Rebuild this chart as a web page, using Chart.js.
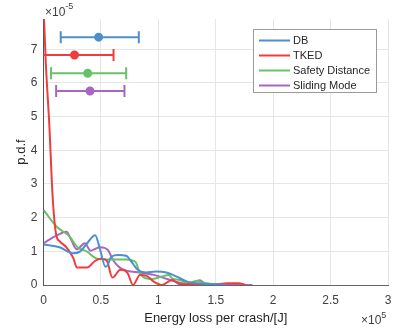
<!DOCTYPE html>
<html>
<head>
<meta charset="utf-8">
<script src="https://cdn.jsdelivr.net/npm/chart.js@4"></script>
<style>
  html, body { margin: 0; padding: 0; background: #fff; }
  #wrap { width: 396px; height: 330px; }
</style>
</head>
<body>
<div id="wrap"><canvas id="myChart" width="396" height="330"></canvas></div>
<script>
// x in units of 1e5 J, y in units of 1e-5
const seriesNames = ["DB", "TKED", "Safety Distance", "Sliding Mode"];
const seriesColors = ["#4d8fcc", "#f03c3c", "#68c168", "#a866c2"];

const dbX = [0, 0.14, 0.26, 0.32, 0.38, 0.45, 0.49, 0.54, 0.56, 0.59, 0.65, 0.72, 0.76, 0.82, 0.89, 0.98, 1.07, 1.16, 1.25, 1.34, 1.42, 1.5, 1.6];
const dbY = [1.2, 1.12, 0.94, 1.0, 1.24, 1.48, 1.09, 0.54, 0.6, 0.84, 0.89, 0.87, 0.72, 0.45, 0.37, 0.4, 0.37, 0.25, 0.1, 0.05, 0.03, 0.02, 0.0];

const tkedX = [0, 0.02, 0.05, 0.08, 0.11, 0.14, 0.2, 0.26, 0.29, 0.38, 0.45, 0.5, 0.55, 0.6, 0.67, 0.73, 0.78, 0.84, 0.9, 0.96, 1.03, 1.12, 1.19, 1.3, 1.4, 1.5, 1.6, 1.7, 1.76];
const tkedY = [8.3, 6.6, 4.8, 2.6, 1.5, 1.3, 1.12, 0.8, 0.52, 0.52, 0.72, 0.78, 0.73, 0.22, 0.45, 0.37, 0.0, 0.3, 0.27, 0.1, 0.0, 0.15, 0.02, 0.03, 0.0, 0.02, 0.05, 0.05, 0.0];

const sdX = [0, 0.115, 0.23, 0.29, 0.38, 0.46, 0.55, 0.72, 0.8, 0.84, 0.89, 0.95, 1.03, 1.09, 1.12, 1.19, 1.25, 1.33, 1.42, 1.48, 1.6];
const sdY = [2.23, 1.73, 1.43, 1.14, 0.99, 0.79, 0.76, 0.76, 0.69, 0.35, 0.2, 0.18, 0.25, 0.3, 0.2, 0.15, 0.05, 0.12, 0.05, 0.02, 0.0];

const smX = [0, 0.12, 0.2, 0.24, 0.29, 0.36, 0.41, 0.49, 0.56, 0.61, 0.67, 0.73, 0.84, 0.96, 1.04, 1.15, 1.27, 1.36, 1.42, 1.6, 1.82];
const smY = [1.24, 1.48, 1.58, 1.35, 1.06, 1.24, 1.02, 1.12, 1.04, 0.72, 0.5, 0.42, 0.37, 0.3, 0.22, 0.1, 0.02, 0.14, 0.01, 0.0, 0.0];

// horizontal range markers at the top
const barY = [7.36, 6.83, 6.29, 5.76];
const barMean = [0.48, 0.27, 0.385, 0.405];
const barLow = [0.15, -0.07, 0.065, 0.11];
const barHigh = [0.83, 0.61, 0.72, 0.705];

const xTicks = [0, 0.5, 1, 1.5, 2, 2.5, 3];
const yTicks = [0, 1, 2, 3, 4, 5, 6, 7];

const curveX = [dbX, tkedX, sdX, smX];
const curveY = [dbY, tkedY, sdY, smY];

const datasets = [];
seriesNames.forEach((name, i) => {
  datasets.push({
    label: name,
    data: curveX[i].map((x, j) => ({ x: x, y: curveY[i][j] })),
    borderColor: seriesColors[i],
    borderWidth: 2,
    pointRadius: 0,
    cubicInterpolationMode: "monotone",
    fill: false,
  });
});
seriesNames.forEach((name, i) => {
  datasets.push({
    label: name + " range",
    isRange: true,
    data: [
      { x: barLow[i], y: barY[i] },
      { x: barMean[i], y: barY[i] },
      { x: barHigh[i], y: barY[i] },
    ],
    borderColor: seriesColors[i],
    backgroundColor: seriesColors[i],
    borderWidth: 2,
    tension: 0,
    pointStyle: ["line", "circle", "line"],
    pointRotation: [90, 0, 90],
    pointRadius: [6, 3.5, 6],
    pointBorderWidth: 2,
    pointBackgroundColor: seriesColors[i],
    pointBorderColor: seriesColors[i],
  });
});

const textColor = "#404040";
const fontFamily = "'Liberation Sans', Arial, sans-serif";

const boxLegend = {
  id: "boxLegend",
  afterDraw(chart) {
    const ctx = chart.ctx;
    const x0 = 253.5, y0 = 29.5, w = 123, h = 63;
    ctx.save();
    ctx.fillStyle = "#fff";
    ctx.fillRect(x0, y0, w, h);
    ctx.strokeStyle = "#9a9a9a";
    ctx.lineWidth = 1;
    ctx.strokeRect(x0, y0, w, h);
    ctx.font = "11px " + fontFamily;
    ctx.textBaseline = "middle";
    chart.data.datasets.filter(d => !d.isRange).forEach((d, i) => {
      const y = 40.5 + i * 15;
      ctx.strokeStyle = d.borderColor;
      ctx.lineWidth = 2;
      ctx.beginPath();
      ctx.moveTo(259, y);
      ctx.lineTo(290, y);
      ctx.stroke();
      ctx.fillStyle = "#262626";
      ctx.fillText(d.label, 293, y);
    });
    ctx.restore();
  },
};

const exponents = {
  id: "exponents",
  afterDraw(chart) {
    const ctx = chart.ctx;
    ctx.save();
    ctx.fillStyle = textColor;
    ctx.textBaseline = "alphabetic";
    ctx.font = "12px " + fontFamily;
    ctx.fillText("\u00d710", 45, 15.5);
    let w = ctx.measureText("\u00d710").width;
    ctx.font = "9px " + fontFamily;
    ctx.fillText("-5", 45 + w, 9);
    ctx.font = "12px " + fontFamily;
    ctx.fillText("\u00d710", 361, 324);
    w = ctx.measureText("\u00d710").width;
    ctx.font = "9px " + fontFamily;
    ctx.fillText("5", 361 + w, 317.5);
    ctx.restore();
  },
};

const ctx = document.getElementById("myChart");

new Chart(ctx, {
  type: "line",
  data: { datasets: datasets },
  options: {
    responsive: false,
    animation: false,
    layout: { autoPadding: false, padding: { top: 19, right: 8, left: 0, bottom: 0 } },
    plugins: {
      legend: { display: false },
      tooltip: { enabled: false },
    },
    scales: {
      x: {
        type: "linear",
        min: 0,
        max: 3,
        afterBuildTicks: (scale) => {
          scale.ticks = xTicks.map(v => ({ value: v }));
        },
        afterFit: (scale) => {
          scale.height = 45;
          scale.paddingLeft = 0;
          scale.paddingRight = 0;
        },
        grid: { color: "#e6e6e6", drawTicks: false },
        border: { color: "#666", width: 1 },
        ticks: {
          padding: 8,
          color: textColor,
          font: { size: 12, family: fontFamily },
          maxRotation: 0,
          callback: (value) => String(value),
        },
        title: {
          display: true,
          text: "Energy loss per crash/[J]",
          color: "#262626",
          font: { size: 13, family: fontFamily },
          padding: { top: 0, bottom: 4 },
        },
      },
      y: {
        min: 0,
        max: 7.9,
        afterBuildTicks: (scale) => {
          scale.ticks = yTicks.map(v => ({ value: v }));
        },
        afterFit: (scale) => {
          scale.width = 43.5;
          scale.paddingTop = 0;
          scale.paddingBottom = 0;
        },
        grid: { color: "#e6e6e6", drawTicks: false },
        border: { color: "#555", width: 1 },
        ticks: {
          padding: 6,
          color: textColor,
          font: { size: 12, family: fontFamily },
          callback: (value) => String(value),
        },
        title: {
          display: true,
          text: "p.d.f",
          color: "#262626",
          font: { size: 13, family: fontFamily },
          padding: { top: 14, bottom: 0 },
        },
      },
    },
  },
  plugins: [boxLegend, exponents],
});
</script>
</body>
</html>
